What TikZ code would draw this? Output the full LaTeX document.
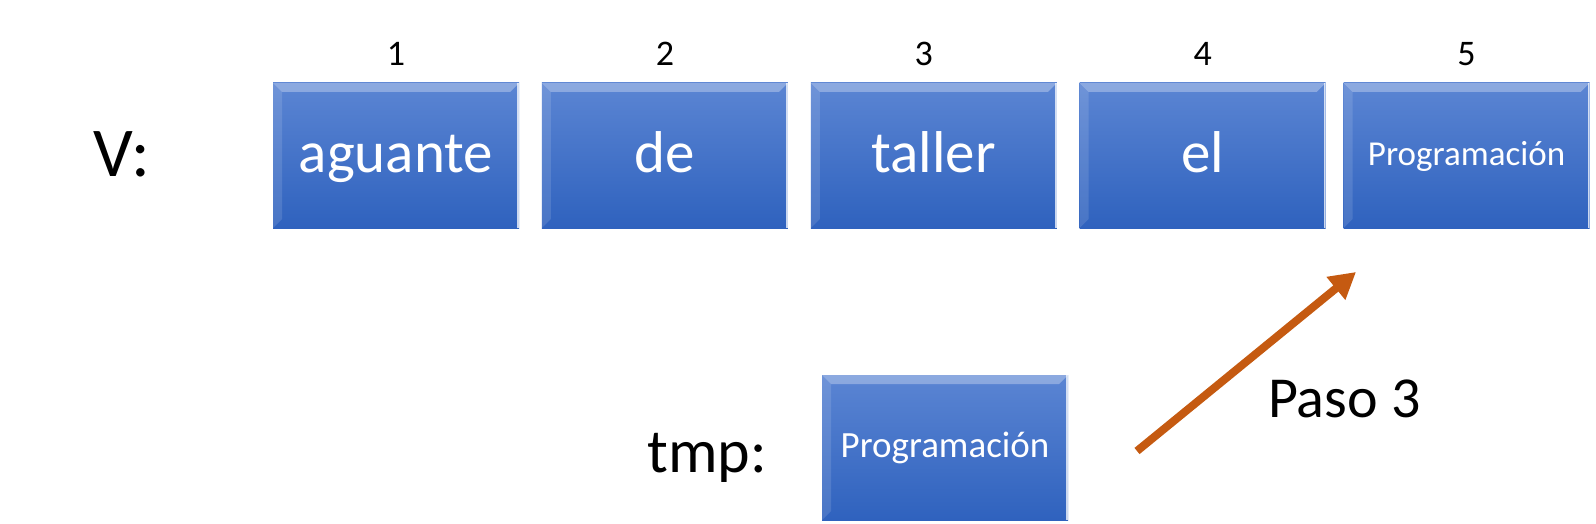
\documentclass[tikz,border=0pt]{standalone}
\usepackage{fontspec}
\setmainfont{Carlito}
\usetikzlibrary{positioning,arrows.meta}
\definecolor{celltop}{HTML}{5B85D3}
\definecolor{cellbot}{HTML}{2F62BE}
\definecolor{pasocolor}{HTML}{C55A11}
\tikzset{
  cell/.style={minimum width=246pt, minimum height=145pt, inner sep=0pt,
    top color=celltop, bottom color=cellbot, text=white,
    font=\fontsize{59}{65}\selectfont, text height=46pt, text depth=13pt,
    path picture={
      \fill[white, opacity=.3] (path picture bounding box.north west) -- (path picture bounding box.north east)
        -- ([xshift=-9pt,yshift=-9pt]path picture bounding box.north east)
        -- ([xshift=9pt,yshift=-9pt]path picture bounding box.north west) -- cycle;
      \fill[white, opacity=.12] (path picture bounding box.north west) -- ([xshift=9pt,yshift=-9pt]path picture bounding box.north west)
        -- ([xshift=9pt,yshift=9pt]path picture bounding box.south west) -- (path picture bounding box.south west) -- cycle;
      \draw[white, line width=2pt, opacity=.75] ([xshift=-1pt]path picture bounding box.north east) -- ([xshift=-1pt]path picture bounding box.south east);
    }},
  smallcell/.style={cell, font=\fontsize{35}{40}\selectfont, text height=27pt, text depth=8pt},
  index/.style={inner sep=0pt, font=\fontsize{36}{40}\selectfont},
  tag/.style={inner sep=0pt, font=\fontsize{62}{68}\selectfont},
}
\begin{document}
\begin{tikzpicture}[x=1pt,y=-1pt,node distance=22.5pt]
		\useasboundingbox (0,0) rectangle (1596,524);
		\node[cell] (b1) at (396,155.5) {aguante};
		\node[cell] (b2) [right = of b1] {de};
		\node[cell] (b3) [right = of b2] {taller};
		\node[cell] (b4) [right = of b3] {el};
		\node[smallcell, xshift=-5pt] (b5) [right = of b4] {Programación};
		
		\node[index] (n1) [above = 17pt of b1] {1};
		\node[index] (n2) [above = 17pt of b2] {2};
		\node[index, xshift=-10pt] (n3) [above = 17pt of b3] {3};
		\node[index] (n4) [above = 17pt of b4] {4};
		\node[index] (n5) [above = 17pt of b5] {5};
		
		\node[tag, font=\fontsize{70}{76}\selectfont, anchor=base east] (vlbl) at (150,176) {V:};
		
		\node[smallcell, font=\fontsize{37}{42}\selectfont] (tmp) at (945,447.5) {Programación};
		\node[tag, anchor=base east] (tmplbl) at (767,472) {tmp:};
		
		\coordinate (from) at (1137,451);
		\coordinate (to) at (1356,272);
		\draw[pasocolor, line width=8pt, -{Triangle[length=26pt,width=28pt]}] (from) -- (to);
		\node[tag, font=\fontsize{58}{64}\selectfont, anchor=base west] (paso) at (1268,417) {Paso 3};
	\end{tikzpicture}
\end{document}
